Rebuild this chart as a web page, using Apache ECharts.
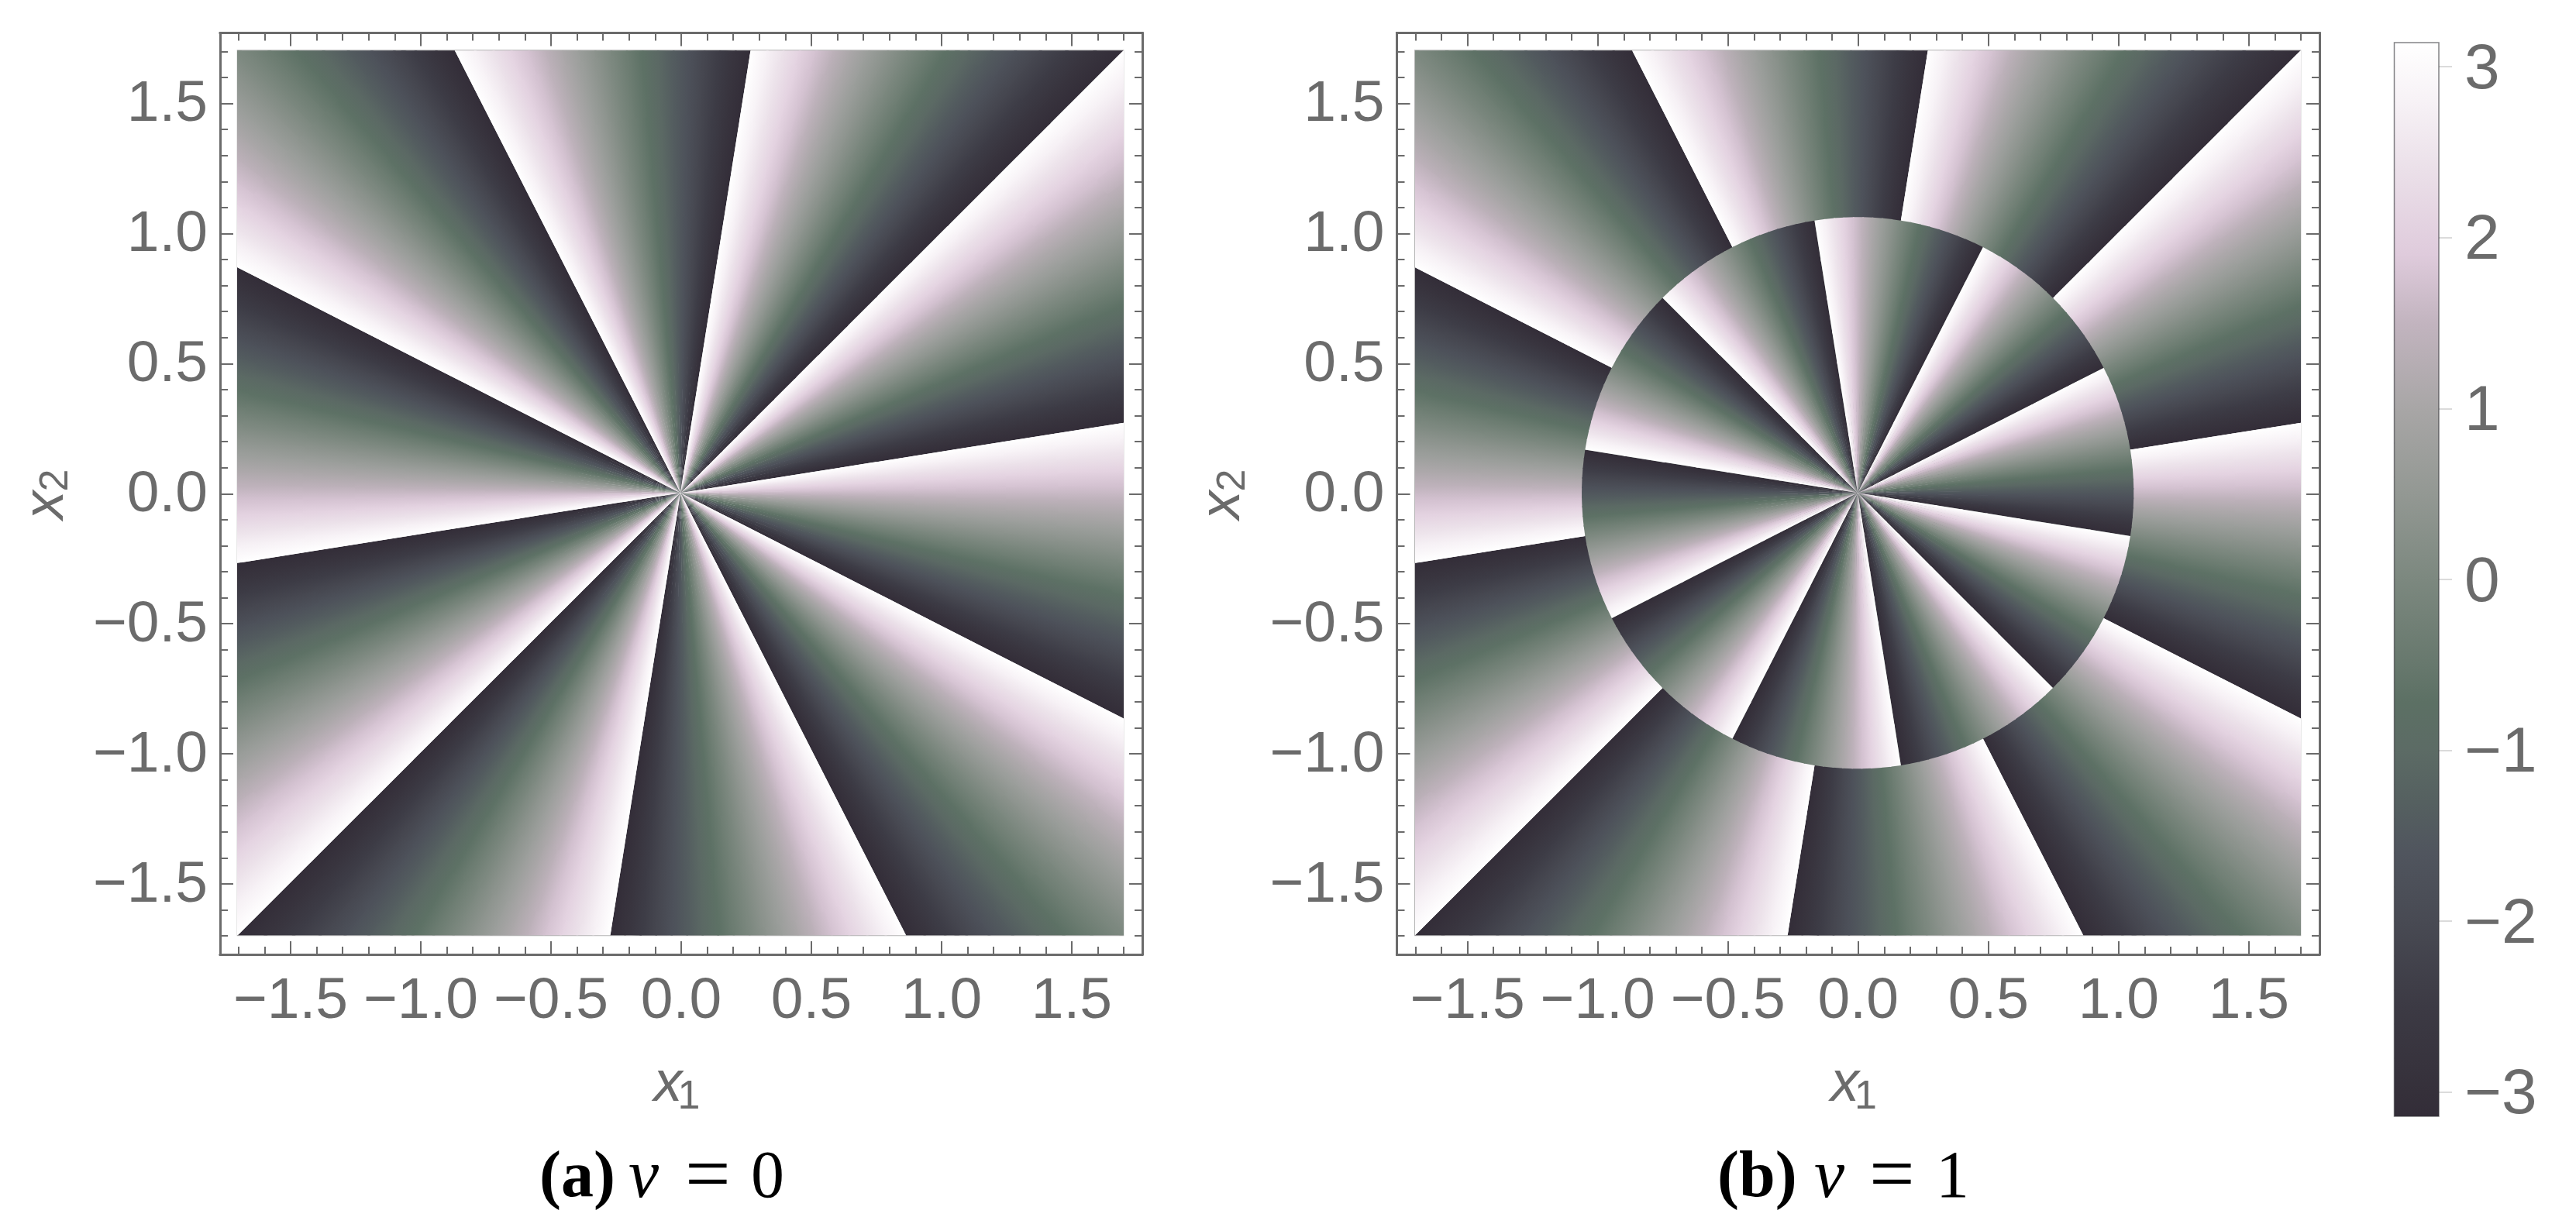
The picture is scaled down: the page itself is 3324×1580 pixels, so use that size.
<!DOCTYPE html>
<html>
<head>
<meta charset="utf-8">
<title>Phase plots</title>
<style>
  html, body { margin: 0; padding: 0; background: #fff; }
  #main { width: 3324px; height: 1580px; }
</style>
<script src="https://cdn.jsdelivr.net/npm/echarts@6/dist/echarts.min.js"></script>
</head>
<body>
<div id="main"></div>
<script>
// Angles (degrees) of the branch cuts
const outerCuts = [45, 9, 333, 297, 261, 225, 189, 153, 117, 81];
const discCuts = [27, 351, 315, 279, 243, 207, 171, 135, 99, 63];
const discRadius = 1.06;

// Phase across one 36 degree wedge, clockwise from a cut, one sample every 2 degrees.
// Estimated from the colours against the colour bar, not measured sample by sample.
const wedgePhase = [3.14, 2.79, 2.44, 2.09, 1.75, 1.40, 1.05, 0.70, 0.35, 0.00,
  -0.35, -0.70, -1.05, -1.40, -1.75, -2.09, -2.44, -2.79, -3.14];
const stripStep = 2;

// Colour bar
const mapValues = [-3.14, -3, -2.5, -2, -1.6, -1.3, -1, -0.72, -0.5, 0, 0.5, 1, 1.5, 1.9, 2.4, 2.8, 3.14];
const mapColors = ['#332d38', '#35303a', '#3c3a44', '#484a53', '#50555e', '#556060', '#5c6b65', '#5c7064', '#67786d',
  '#7c887f', '#939893', '#a8a6a6', '#c2b4bf', '#dfcbdc', '#ebe0e9', '#f7f2f6', '#ffffff'];

const majorTicks = [-1.5, -1.0, -0.5, 0.0, 0.5, 1.0, 1.5];
const allTicks = [-1.7, -1.6, -1.5, -1.4, -1.3, -1.2, -1.1, -1.0, -0.9, -0.8, -0.7, -0.6, -0.5, -0.4, -0.3, -0.2, -0.1,
  0.0, 0.1, 0.2, 0.3, 0.4, 0.5, 0.6, 0.7, 0.8, 0.9, 1.0, 1.1, 1.2, 1.3, 1.4, 1.5, 1.6, 1.7];
const barMajorTicks = [-3, -2, -1, 0, 1, 2, 3];
const barAllTicks = [-3.0, -2.8, -2.6, -2.4, -2.2, -2.0, -1.8, -1.6, -1.4, -1.2, -1.0, -0.8, -0.6, -0.4, -0.2,
  0.0, 0.2, 0.4, 0.6, 0.8, 1.0, 1.2, 1.4, 1.6, 1.8, 2.0, 2.2, 2.4, 2.6, 2.8, 3.0];

const frameRange = 1.771;
const imageRange = 1.7;
const barRange = 3.1416;

// rings only split the strips up so the gradients line up, they carry no values
const ringEdges = [0, 0.06, 0.1, 0.15, 0.22, 0.3, 0.4, 0.5, 0.62, 0.75, 0.9, 1.06, 1.25, 1.45, 1.7, 2.0, 2.45];

const inkColor = '#6b6b6b';
const labelFont = '"Liberation Sans", Arial, sans-serif';
const serifFont = '"Liberation Serif", serif';

function hexToRgb(hex) {
  return [1, 3, 5].map(i => parseInt(hex.slice(i, i + 2), 16));
}

// colour for a phase value, from the colour bar stops
function colorAt(v) {
  let i = 0;
  while (i < mapValues.length - 2 && v > mapValues[i + 1]) i++;
  const t = Math.min(1, Math.max(0, (v - mapValues[i]) / (mapValues[i + 1] - mapValues[i])));
  const a = hexToRgb(mapColors[i]);
  const b = hexToRgb(mapColors[i + 1]);
  const c = a.map((x, k) => Math.round(x + (b[k] - x) * t));
  return `rgb(${c[0]},${c[1]},${c[2]})`;
}

function polar(r, deg) {
  const a = deg * Math.PI / 180;
  return [r * Math.cos(a), r * Math.sin(a)];
}

// one row per piece: start angle, end angle, inner radius, outer radius, phase at start, phase at end, overlap angle
function buildStrips(cuts, radius) {
  const rows = [];
  const edges = ringEdges.filter(r => r < radius - 0.001).concat([radius]);
  cuts.forEach(cut => {
    for (let i = 0; i < wedgePhase.length - 1; i++) {
      const a0 = cut - i * stripStep;
      const last = i === wedgePhase.length - 2;
      for (let k = 0; k < edges.length - 1; k++) {
        // small overlaps so no background shows through between pieces
        const r1 = k === edges.length - 2 ? edges[k + 1] : edges[k + 1] + 0.01;
        rows.push([a0, a0 - stripStep, edges[k], r1, wedgePhase[i], wedgePhase[i + 1], last ? 0 : 0.25]);
      }
    }
  });
  return rows;
}

function renderStrip(params, api) {
  const a0 = api.value(0), a1 = api.value(1), r0 = api.value(2), r1 = api.value(3);
  const end = a1 - api.value(6);
  const mid = (r0 + r1) / 2;
  const g0 = api.coord(polar(mid, a0));
  const g1 = api.coord(polar(mid, a1));
  return {
    type: 'polygon',
    shape: {
      points: [api.coord(polar(r0, a0)), api.coord(polar(r1, a0)), api.coord(polar(r1, end)), api.coord(polar(r0, end))]
    },
    style: {
      fill: new echarts.graphic.LinearGradient(g0[0], g0[1], g1[0], g1[1], [
        { offset: 0, color: colorAt(api.value(4)) },
        { offset: 1, color: colorAt(api.value(5)) }
      ], true)
    }
  };
}

const grids = [];
const xAxes = [];
const yAxes = [];
const series = [];

function frameAxis(dim, position, gridIndex, ticks, length, labelled) {
  return {
    type: 'value',
    gridIndex: gridIndex,
    position: position,
    min: -frameRange,
    max: frameRange,
    axisLine: { show: true, onZero: false, lineStyle: { color: inkColor, width: 3 } },
    axisTick: { show: true, inside: true, length: length, customValues: ticks, lineStyle: { color: inkColor, width: 2 } },
    axisLabel: labelled ? Object.assign({
      show: true,
      customValues: majorTicks,
      margin: dim === 'x' ? 24 : 16,
      hideOverlap: false,
      fontFamily: labelFont,
      fontSize: 75,
      color: inkColor,
      formatter: v => v.toFixed(1).replace('-', '\u2212')
    }, dim === 'x' ? {} : { verticalAlign: 'top', lineHeight: 4 }) : { show: false },
    splitLine: { show: false }
  };
}

function addPanel(frame, image, regions) {
  const frameGrid = grids.length;
  grids.push({ left: frame[0], top: frame[1], width: frame[2], height: frame[3], show: false });
  ['bottom', 'top'].forEach(p => {
    xAxes.push(frameAxis('x', p, frameGrid, allTicks, 10, false));
    xAxes.push(frameAxis('x', p, frameGrid, majorTicks, 17, p === 'bottom'));
  });
  ['left', 'right'].forEach(p => {
    yAxes.push(frameAxis('y', p, frameGrid, allTicks, 10, false));
    yAxes.push(frameAxis('y', p, frameGrid, majorTicks, 17, p === 'left'));
  });

  const imageGrid = grids.length;
  grids.push({
    left: image[0], top: image[1], width: image[2], height: image[3],
    show: true, backgroundColor: '#fff', borderColor: '#b4b4b4', borderWidth: 2
  });
  const hidden = { type: 'value', gridIndex: imageGrid, min: -imageRange, max: imageRange, show: false };
  xAxes.push(Object.assign({}, hidden));
  yAxes.push(Object.assign({}, hidden));

  regions.forEach(region => {
    series.push({
      type: 'custom',
      coordinateSystem: 'cartesian2d',
      xAxisIndex: xAxes.length - 1,
      yAxisIndex: yAxes.length - 1,
      clip: true,
      silent: true,
      animation: false,
      renderItem: renderStrip,
      data: buildStrips(region.cuts, region.radius)
    });
  });
}

addPanel([284, 42.5, 1190, 1189.5], [306.7, 65.3, 1142.6, 1142],
  [{ cuts: outerCuts, radius: 2.45 }]);
addPanel([1802.5, 42.5, 1190.5, 1189.5], [1826, 65.3, 1142.3, 1142],
  [{ cuts: outerCuts, radius: 2.45 },
   { cuts: discCuts, radius: discRadius }]);

// colour bar
const barGrid = grids.length;
grids.push({
  left: 3089.5, top: 55, width: 57.5, height: 1386,
  show: true, backgroundColor: 'transparent', borderColor: 'rgba(50,50,55,0.6)', borderWidth: 1.5, z: 4
});
xAxes.push({ type: 'value', gridIndex: barGrid, min: 0, max: 1, show: false });
function barAxis(ticks, length, labelled) {
  return {
    type: 'value',
    gridIndex: barGrid,
    position: 'right',
    min: -barRange,
    max: barRange,
    axisLine: { show: false },
    axisTick: { show: true, length: length, customValues: ticks, lineStyle: { color: '#cfcfcf', width: 1.5 } },
    axisLabel: labelled ? {
      show: true,
      customValues: barMajorTicks,
      margin: 33,
      verticalAlign: 'top',
      lineHeight: 10,
      hideOverlap: false,
      fontFamily: labelFont,
      fontSize: 82,
      color: inkColor,
      formatter: v => String(v).replace('-', '\u2212')
    } : { show: false },
    splitLine: { show: false }
  };
}
yAxes.push(barAxis(barAllTicks, 11, false));
yAxes.push(barAxis(barMajorTicks, 17, true));
series.push({
  type: 'custom',
  coordinateSystem: 'cartesian2d',
  xAxisIndex: xAxes.length - 1,
  yAxisIndex: yAxes.length - 1,
  silent: true,
  animation: false,
  data: [[0, -barRange, 1, barRange]],
  renderItem: function (params, api) {
    const a = api.coord([api.value(0), api.value(3)]);
    const b = api.coord([api.value(2), api.value(1)]);
    return {
      type: 'rect',
      shape: { x: a[0], y: a[1], width: b[0] - a[0], height: b[1] - a[1] },
      style: {
        fill: new echarts.graphic.LinearGradient(0, 1, 0, 0,
          mapValues.map((v, i) => ({ offset: (v + 3.14) / 6.28, color: mapColors[i] })))
      }
    };
  }
});

// axis names and captions
function textItem(text, x, y, font, fill, rotation, align) {
  return {
    type: 'text', x: x, y: y, rotation: rotation || 0, silent: true,
    style: { text: text, font: font, fill: fill, textAlign: align || 'center', textVerticalAlign: 'middle' }
  };
}
function axisNames(dx) {
  return [
    textItem('x', 862 + dx, 1400, `italic 74px ${labelFont}`, inkColor),
    textItem('1', 889 + dx, 1417, `52px ${labelFont}`, inkColor),
    textItem('x', 60 + dx, 652, `italic 74px ${labelFont}`, inkColor, Math.PI / 2),
    textItem('2', 73 + dx, 620, `52px ${labelFont}`, inkColor, Math.PI / 2)
  ];
}
function caption(letter, symbol, xs) {
  return [
    textItem(`(${letter})`, xs[0], 1522, `bold 84px ${serifFont}`, '#000', 0, 'left'),
    textItem('\u03bd', xs[1], 1522, `italic 88px ${serifFont}`, '#000', 0, 'left'),
    textItem('=', xs[2], 1523, `104px ${serifFont}`, '#000', 0, 'left'),
    textItem(symbol, xs[3], 1522, `86px ${serifFont}`, '#000', 0, 'left')
  ];
}

const chart = echarts.init(document.getElementById('main'));
chart.setOption({
  animation: false,
  backgroundColor: '#fff',
  grid: grids,
  xAxis: xAxes,
  yAxis: yAxes,
  series: series,
  graphic: [].concat(
    axisNames(0), axisNames(1518.5),
    caption('a', '0', [696, 811, 884, 969]),
    caption('b', '1', [2216, 2341, 2412, 2498])
  )
});
</script>
</body>
</html>
